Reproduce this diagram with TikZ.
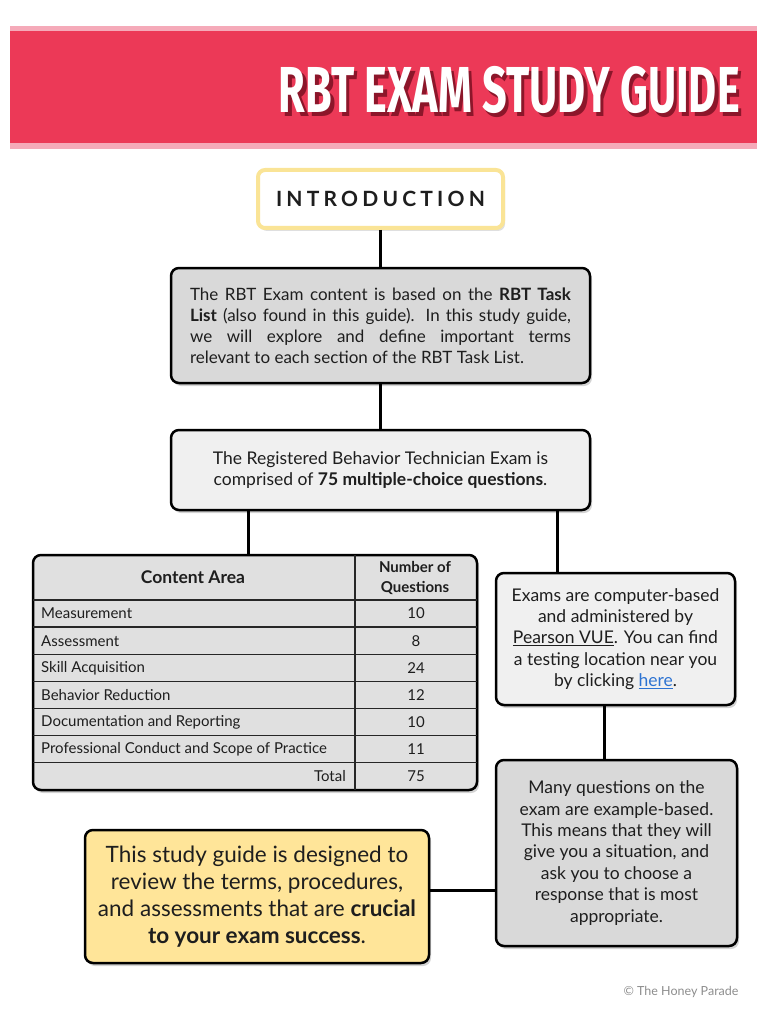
\documentclass[tikz,border=0pt]{standalone}
\usepackage{fontspec}
\setmainfont{Lato}
\newfontfamily\titlefont{Fira Sans}
\newfontfamily\spacedfont[LetterSpace=20]{Lato}
\usepackage{xcolor}
\definecolor{BannerRed}{RGB}{236,57,87}
\definecolor{BannerEdge}{RGB}{245,170,185}
\definecolor{TitleShadow}{RGB}{140,22,42}
\definecolor{IntroYellow}{RGB}{250,228,150}
\definecolor{CardGray}{RGB}{217,217,217}
\definecolor{CardLight}{RGB}{240,240,240}
\definecolor{TableGray}{RGB}{224,224,224}
\definecolor{NoteYellow}{RGB}{255,229,153}
\definecolor{TextDark}{RGB}{30,30,30}
\definecolor{LinkBlue}{RGB}{45,115,210}
\definecolor{FootGray}{RGB}{140,140,140}
\usetikzlibrary{shadows,positioning,calc}

\newcommand{\bannertext}{\scalebox{0.665}[1]{RBT EXAM STUDY GUIDE}}

\begin{document}
\begin{tikzpicture}[x=1pt,y=-1pt,
  card/.style={rectangle,rounded corners=8pt,draw=black,line width=2.5pt,
               inner sep=0pt,align=center,text=TextDark,
               font=\fontsize{17.5}{21.4}\selectfont,
               drop shadow={opacity=0.35,shadow xshift=2pt,shadow yshift=-3pt}},
  introbox/.style={rectangle,rounded corners=7pt,draw=IntroYellow,line width=4pt,
                   fill=white,minimum width=245pt,minimum height=58pt,
                   font=\spacedfont\bfseries\fontsize{21}{24}\selectfont,text=TextDark,
                   drop shadow={opacity=0.25,shadow xshift=2pt,shadow yshift=-3pt}},
  link/.style={line width=3pt,black},
  grid/.style={line width=1.3pt,black!85},
  cell/.style={font=\fontsize{15}{18}\selectfont,text=TextDark,inner sep=0pt}
]
  \useasboundingbox (0,0) rectangle (768,1024);

  % banner
  \fill[BannerEdge] (10,26) rectangle (757,149);
  \fill[BannerRed] (10,31) rectangle (757,143);
  \node[anchor=base east,text=white,inner sep=0pt,
        font=\titlefont\bfseries\fontsize{65}{70}\selectfont] (title) at (740,113)
        {\makebox[0pt][l]{\kern3.5pt\raisebox{-3.5pt}{\color{TitleShadow}\bannertext}}\bannertext};

  % flow boxes
  \node[introbox] (intro) at (380.5,199) {INTRODUCTION};
  \node[card,fill=CardGray,minimum width=419pt,minimum height=115pt,
        text width=381pt,align=justify,font=\fontsize{17}{21}\selectfont] (tasklist) at (380.5,325.5)
        {The RBT Exam content is based on the \textbf{RBT Task}\linebreak
         \textbf{List} (also found in this guide). In this study guide,\linebreak
         we will explore and define important terms\linebreak
         relevant to each section of the RBT Task List.};
  \node[card,fill=CardLight,minimum width=419pt,minimum height=80pt] (exam) at (380.5,470)
        {The Registered Behavior Technician Exam is\\
         comprised of \textbf{75 multiple-choice questions}.};
  \node[card,fill=CardLight,minimum width=239pt,minimum height=132pt] (pearson) at (615.5,639)
        {Exams are computer-based\\
         and administered by\\
         \underline{Pearson VUE}. You can find\\
         a testing location near you\\
         by clicking \textcolor{LinkBlue}{\underline{here}}.};
  \node[card,fill=CardGray,minimum width=241pt,minimum height=186pt] (examples) at (616.5,853)
        {Many questions on the\\
         exam are example-based.\\
         This means that they will\\
         give you a situation, and\\
         ask you to choose a\\
         response that is most\\
         appropriate.};
  \node[card,fill=NoteYellow,minimum width=344pt,minimum height=133pt,
        font=\fontsize{22.5}{27}\selectfont] (purpose) at (257,896.5)
        {This study guide is designed to\\
         review the terms, procedures,\\
         and assessments that are \textbf{crucial}\\
         \textbf{to your exam success}.};

  % content area table
  \node[card,fill=TableGray,minimum width=444pt,minimum height=235pt] (areas) at (255,672.5) {};
  \draw[grid] (355,555) -- (355,790);
  \foreach \i in {0,...,6}
    \draw[grid] (33,{600+27.14*\i}) -- (477,{600+27.14*\i});
  \node[cell,font=\bfseries\fontsize{17.5}{20}\selectfont] (areahead) at (193,577.5) {Content Area};
  \node[cell,align=center,font=\bfseries\fontsize{15}{20}\selectfont] (numhead) at (415,577.5)
        {Number of\\Questions};
  \foreach \area/\qnum [count=\i] in {Measurement/10,Assessment/8,Skill Acquisition/24,
      Behavior Reduction/12,Documentation and Reporting/10,
      Professional Conduct and Scope of Practice/11}
  {
    \node[cell,anchor=west] (area\i) at (41,{600+27.14*(\i-0.5)}) {\area};
    \node[cell] (num\i) at (416,{600+27.14*(\i-0.5)}) {\qnum};
  }
  \node[cell,anchor=east] (totallabel) at (346,{600+27.14*6.5}) {Total};
  \node[cell] (total) at (416,{600+27.14*6.5}) {75};

  % connectors
  \draw[link] (intro.south) -- (tasklist.north);
  \draw[link] (tasklist.south) -- (exam.north);
  \draw[link] ($(exam.south -| areas.north)+(-7,0)$) -- ($(areas.north)+(-7,0)$);
  \draw[link] ($(exam.south -| pearson.north)+(-58.5,0)$) -- ($(pearson.north)+(-58.5,0)$);
  \draw[link] ($(pearson.south)+(-11.5,0)$) -- ($(pearson.south |- examples.north)+(-11.5,0)$);
  \draw[link] ($(purpose.east)+(0,-6)$) -- ($(purpose.east -| examples.west)+(0,-6)$);

  % footer
  \node[anchor=east,text=FootGray,font=\fontsize{12.5}{14}\selectfont] (credit) at (742,992)
        {\textcopyright{} The Honey Parade};
\end{tikzpicture}
\end{document}
